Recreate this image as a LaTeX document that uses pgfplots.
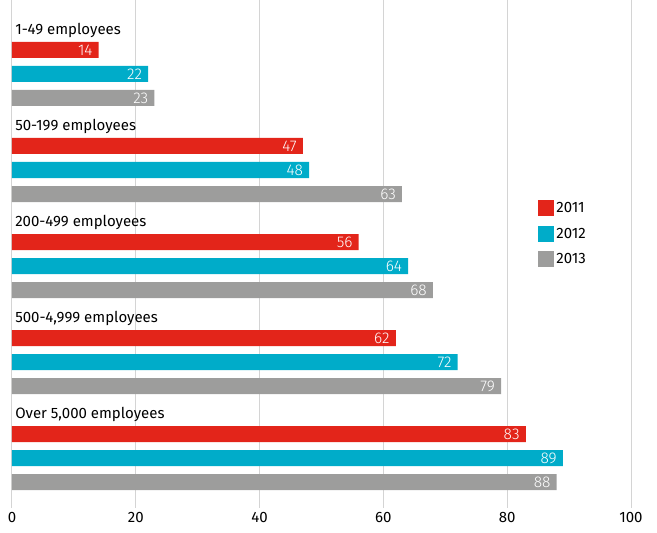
\documentclass[border=0pt]{standalone}
\usepackage{fontspec}
\setmainfont{Fira Sans}
\newfontfamily\lightfont{Fira Sans Light}
\usepackage{pgfplots}
\pgfplotsset{compat=1.18}
\definecolor{cred}{HTML}{E3251A}
\definecolor{ccyan}{HTML}{00ACC9}
\definecolor{cgray}{HTML}{9D9D9C}
\definecolor{cgrid}{HTML}{D4D4D4}
\newcommand{\fs}{\fontsize{15}{18}\selectfont}
\begin{document}
\begin{tikzpicture}[x=1pt,y=1pt]
\path[use as bounding box] (-12,-25) rectangle (645,508);
\begin{axis}[
  at={(0,0)}, anchor=south west, scale only axis,
  width=619pt, height=508pt,
  xmin=0, xmax=100, ymin=-1.083, ymax=20.083, y dir=reverse,
  axis line style={draw=none},
  xtick={0,20,...,100}, ytick=\empty, major tick length=0pt,
  xmajorgrids, grid style={cgrid, line width=1pt},
  /pgf/number format/assume math mode=true,
  ticklabel style={font=\fs},
  xticklabel style={yshift=-1pt},
  xbar, bar width=16pt, bar shift=0pt,
  point meta=x,
  nodes near coords,
  nodes near coords align={anchor=east},
  every node near coord/.append style={text=white, font=\lightfont\fontsize{15.5}{18}\selectfont, inner sep=3pt, xshift=-3pt},
  legend style={at={(0.85,0.606)}, anchor=north west, draw=none, fill=none, font=\fs, inner sep=0pt, row sep=9.5pt,
    nodes={inner sep=2pt}},
  legend cell align=left,
  legend image code/.code={\fill[#1] (0pt,-8pt) rectangle (16pt,8pt);},
]
\addplot[fill=cred, draw=none] coordinates {(14,1) (47,5) (56,9) (62,13) (83,17)};
\addplot[fill=ccyan, draw=none] coordinates {(22,2) (48,6) (64,10) (72,14) (89,18)};
\addplot[fill=cgray, draw=none] coordinates {(23,3) (63,7) (68,11) (79,15) (88,19)};
\legend{2011,2012,2013}
\node[anchor=base west, inner sep=0pt, font=\fs] at (axis cs:0.5,0.36) {1-49 employees};
\node[anchor=base west, inner sep=0pt, font=\fs] at (axis cs:0.5,4.36) {50-199 employees};
\node[anchor=base west, inner sep=0pt, font=\fs] at (axis cs:0.5,8.36) {200-499 employees};
\node[anchor=base west, inner sep=0pt, font=\fs] at (axis cs:0.5,12.36) {500-4,999 employees};
\node[anchor=base west, inner sep=0pt, font=\fs] at (axis cs:0.5,16.36) {Over 5,000 employees};
\end{axis}
\end{tikzpicture}
\end{document}
